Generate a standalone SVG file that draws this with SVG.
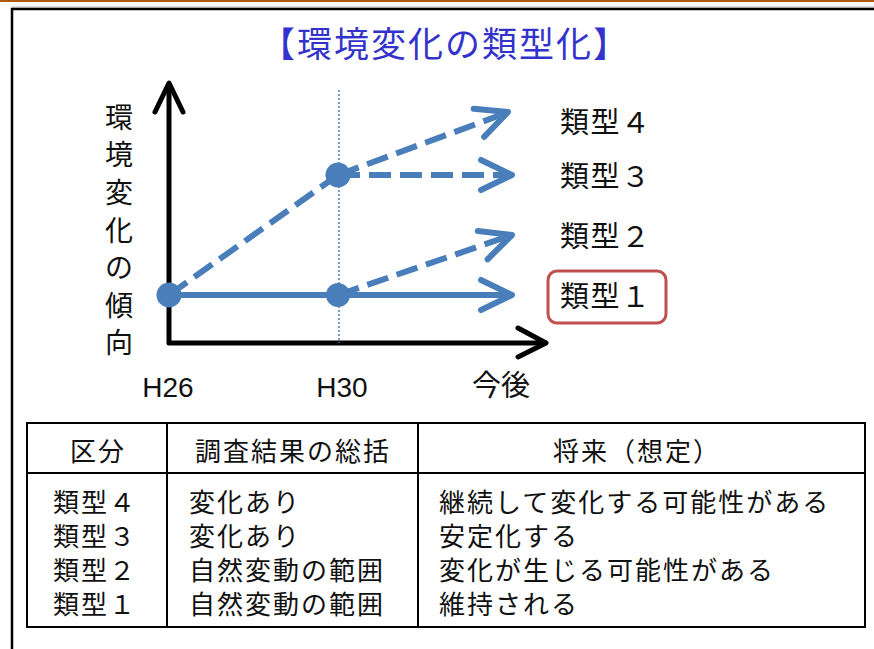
<svg xmlns="http://www.w3.org/2000/svg" width="874" height="649" viewBox="0 0 874 649">
<style>
.jp{font-family:"Noto Sans CJK JP","Noto Sans",sans-serif;fill:#111}
.lat{font-family:"Liberation Sans",Arial,sans-serif;fill:#111}
.ax{stroke:#000;stroke-width:5;fill:none;stroke-linecap:round;stroke-linejoin:round}
.bl{stroke:#4a7ebb;stroke-width:6;fill:none}
.dash{stroke-dasharray:22 9}
.head{stroke:#4a7ebb;stroke-width:6;fill:none;stroke-linecap:round;stroke-linejoin:round}
.dot{fill:#4a7ebb}
.tb{stroke:#000;stroke-width:2;fill:none}
.lbl{font-size:29px;letter-spacing:1.5px}
.cell{font-size:26px;letter-spacing:2px}
</style>
<defs>
<path id="chev" d="M-31,-15 L0,0 L-31,15"/>
</defs>
<rect x="0" y="0" width="874" height="649" fill="#fff"/>
<g id="frame">
<rect x="0" y="0" width="874" height="2" fill="#b3590a"/>
<line x1="12" y1="7" x2="874" y2="7" stroke="#bbb" stroke-width="1"/>
<path d="M12,649 V9 H874" stroke="#000" stroke-width="2.5" fill="none"/>
</g>
<g id="title">
<text x="445" y="57" class="jp" font-size="35" letter-spacing="2" text-anchor="middle" style="fill:#3333cc">【環境変化の類型化】</text>
</g>
<g id="axes">
<path class="ax" d="M169,84 V343 H545"/>
<path class="ax" d="M155,112 L169,83 L183,112"/>
<path class="ax" d="M518,328 L546,343 L518,357"/>
<line x1="339" y1="90" x2="339" y2="343" stroke="#4a7ebb" stroke-width="1.5" stroke-dasharray="2 2"/>
</g>
<g id="y-label" class="jp" font-size="28" text-anchor="middle">
<text x="119" y="128">環</text>
<text x="119" y="165">境</text>
<text x="119" y="203">変</text>
<text x="119" y="241">化</text>
<text x="119" y="278">の</text>
<text x="119" y="316">傾</text>
<text x="119" y="353">向</text>
</g>
<g id="x-labels">
<text x="168" y="397" class="lat" font-size="28" text-anchor="middle">H26</text>
<text x="342" y="397" class="lat" font-size="28" text-anchor="middle">H30</text>
<text x="501" y="396" class="jp" font-size="29" text-anchor="middle">今後</text>
</g>
<g id="connectors">
<line class="bl" x1="169" y1="295" x2="509" y2="295"/>
<line class="bl dash" x1="169" y1="295" x2="338" y2="175"/>
<line class="bl dash" x1="338" y1="175" x2="506" y2="113"/>
<line class="bl dash" x1="338" y1="175" x2="508" y2="175"/>
<line class="bl dash" x1="338" y1="295" x2="509" y2="236"/>
<use href="#chev" class="head" transform="translate(512,295)"/>
<use href="#chev" class="head" transform="translate(512,175)"/>
<use href="#chev" class="head" transform="translate(508,112) rotate(-20.3)"/>
<use href="#chev" class="head" transform="translate(512,235) rotate(-19)"/>
</g>
<g id="points">
<circle class="dot" cx="169" cy="295" r="12.5"/>
<circle class="dot" cx="338" cy="295" r="12"/>
<circle class="dot" cx="338" cy="175" r="12.5"/>
</g>
<g id="type4"><text x="560" y="133" class="jp lbl">類型４</text></g>
<g id="type3"><text x="560" y="187" class="jp lbl">類型３</text></g>
<g id="type2"><text x="560" y="247" class="jp lbl">類型２</text></g>
<g id="type1">
<rect x="548" y="271" width="118" height="52" rx="9" fill="none" stroke="#c0504d" stroke-width="3"/>
<text x="560" y="307" class="jp lbl">類型１</text>
</g>
<g id="table">
<rect class="tb" x="27" y="423" width="838" height="204"/>
<line class="tb" x1="27" y1="473" x2="865" y2="473"/>
<line class="tb" x1="167" y1="423" x2="167" y2="627"/>
<line class="tb" x1="418" y1="423" x2="418" y2="627"/>
<g class="jp cell">
<text x="98" y="461" text-anchor="middle">区分</text>
<text x="293" y="461" text-anchor="middle">調査結果の総括</text>
<text x="637" y="461" text-anchor="middle">将来（想定）</text>
<text x="53" y="512">類型４</text>
<text x="53" y="546">類型３</text>
<text x="53" y="580">類型２</text>
<text x="53" y="614">類型１</text>
<text x="189" y="512">変化あり</text>
<text x="189" y="546">変化あり</text>
<text x="189" y="580">自然変動の範囲</text>
<text x="189" y="614">自然変動の範囲</text>
<text x="439" y="512">継続して変化する可能性がある</text>
<text x="439" y="546">安定化する</text>
<text x="439" y="580">変化が生じる可能性がある</text>
<text x="439" y="614">維持される</text>
</g>
</g>
</svg>
